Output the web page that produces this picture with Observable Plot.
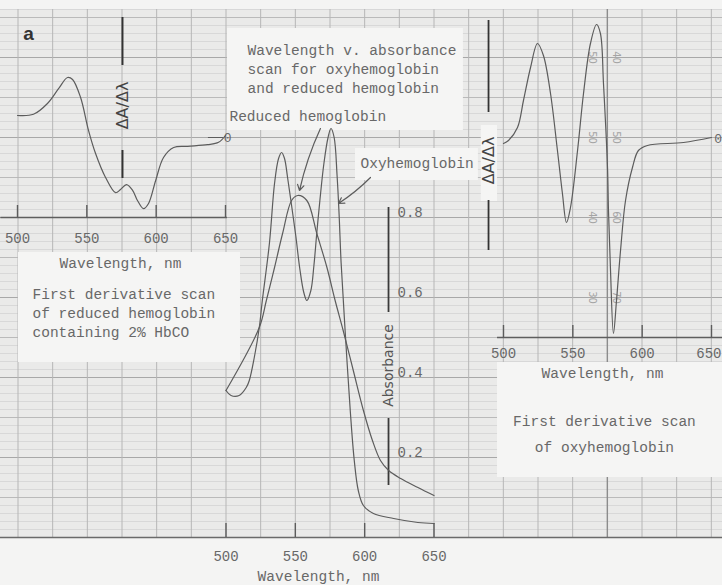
<!DOCTYPE html>
<html>
<head>
<meta charset="utf-8">
<script src="https://cdn.jsdelivr.net/npm/d3@7"></script>
<script src="https://cdn.jsdelivr.net/npm/@observablehq/plot@0.6"></script>
<style>
  body { margin: 0; background: #f4f4f3; }
  #chart { position: relative; width: 722px; height: 585px; overflow: hidden; background: #f4f4f3; }
  #chart svg { position: absolute; left: 0; top: 0; }
  g[aria-label="deriv-label"] text { letter-spacing: 3px; }
  g[aria-label="abs-label"] text { letter-spacing: 1px; }
</style>
</head>
<body>
<div id="chart"></div>
<script>
// ---------- data ----------
const TICKS = [500, 550, 600, 650];
const ABS_TICKS = [0.2, 0.4, 0.6, 0.8];

// Middle: absorbance scans
const oxyWave = [500, 503.6, 509.5, 514.6, 516.8, 520.4, 524.0, 526.2, 531.3, 535.0, 537.9, 540.1, 542.2, 544.4, 547.3, 550.3, 553.2, 556.1, 558.3, 561.2, 563.4, 565.5, 567.7, 570.6, 573.6, 575.7, 578.0, 580.1, 581.6, 583.0, 585.9, 589.6, 592.5, 595.4, 599.1, 606.3, 620.9, 638.4, 650];
const oxyAbs = [0.3675, 0.355, 0.355, 0.375, 0.3925, 0.45, 0.525, 0.5925, 0.735, 0.885, 0.9475, 0.9625, 0.9475, 0.9, 0.83, 0.755, 0.6725, 0.6125, 0.5925, 0.6175, 0.68, 0.7625, 0.8425, 0.935, 1.0, 1.0225, 1.0, 0.905, 0.805, 0.6875, 0.5175, 0.3175, 0.1925, 0.1175, 0.08, 0.06, 0.0475, 0.0375, 0.035];
const redWave = [500, 524.0, 529.1, 535.0, 540.8, 547.3, 551.7, 558.3, 565.5, 572.8, 578.7, 584.5, 591.8, 599.1, 605.6, 611.4, 617.3, 626.0, 638.4, 650];
const redAbs = [0.3675, 0.525, 0.5925, 0.675, 0.76, 0.8425, 0.855, 0.8425, 0.76, 0.675, 0.5925, 0.5175, 0.4175, 0.3175, 0.2425, 0.1925, 0.1675, 0.1475, 0.125, 0.105];

// Left: first derivative of reduced hemoglobin (2% HbCO)
const leftWave = [500, 511.5, 521.6, 529.6, 536.1, 539.7, 545.5, 551.2, 556.3, 563.5, 570.7, 574.3, 578.6, 583.0, 586.6, 590.9, 594.5, 599.6, 605.3, 612.6, 622.7, 637.1, 645.0, 650];
const leftDeriv = [0.275, 0.29, 0.425, 0.61, 0.75, 0.725, 0.5, 0.09, -0.2, -0.5, -0.69, -0.65, -0.59, -0.66, -0.79, -0.89, -0.825, -0.54, -0.25, -0.125, -0.11, -0.09, -0.06, 0.025];

// Right: first derivative of oxyhemoglobin
const rightWave = [500, 503.6, 510.1, 514.4, 519.5, 524.5, 528.8, 533.9, 538.9, 542.5, 545.4, 548.3, 553.4, 557.7, 562.7, 567.1, 569.9, 572.1, 575.0, 575.7, 577.1, 579.3, 581.5, 584.4, 588.0, 593.0, 597.3, 603.8, 629.8, 650];
const rightDeriv = [-0.075, -0.0375, 0.125, 0.4625, 0.875, 1.175, 1.025, 0.55, -0.1625, -0.7, -1.0625, -0.875, -0.1625, 0.55, 1.175, 1.4125, 1.3, 0.675, -0.375, -0.9125, -1.625, -2.45, -2.0375, -1.4125, -0.7875, -0.375, -0.1625, -0.1, -0.0625, 0];

// Chart-paper printed numbers (right panel)
const paperNumsA = ["50", "50", "40", "30"];
const paperNumsB = ["40", "50", "60", "70"];
const paperRows = [1, 0, -1, -2];

// Texts
const titleLines = ["Wavelength v. absorbance", "scan for oxyhemoglobin", "and reduced hemoglobin"];
const redLabel = "Reduced hemoglobin";
const oxyLabel = "Oxyhemoglobin";
const xTitle = "Wavelength, nm";
const absTitle = "Absorbance";
const derivTitle = "ΔA/Δλ";
const leftCaption = ["First derivative scan", "of reduced hemoglobin", "containing 2% HbCO"];
const rightCaption = ["First derivative scan", "of oxyhemoglobin"];
const panelLetter = "a";

// ---------- styles ----------
const MONO = "'Liberation Mono', 'DejaVu Sans Mono', monospace";
const SANS = "'DejaVu Sans', sans-serif";
const INK = "#5c5c5c";
const TYPE = "#686868";
const PAPER = "#eaeae9";
const BOX = "#f5f5f4";

const oxy = oxyWave.map((w, i) => ({w, a: oxyAbs[i]}));
const red = redWave.map((w, i) => ({w, a: redAbs[i]}));
const left = leftWave.map((w, i) => ({w, d: leftDeriv[i]}));
const right = rightWave.map((w, i) => ({w, d: rightDeriv[i]}));

const svgStyle = {background: "none", position: "absolute", left: "0px", top: "0px", maxWidth: "none"};

// grid (paper) in the middle chart's scale
const hIdx = d3.range(0, 67);
const vIdx = d3.range(0, 21);
const hMinor = hIdx.filter(j => j % 5 !== 0).map(j => j * 0.02);
const hMid = hIdx.filter(j => j % 5 === 0 && j % 10 !== 0).map(j => j * 0.02);
const hMajor = hIdx.filter(j => j % 10 === 0).map(j => j * 0.02);
const vLines = vIdx.filter(k => k !== 17).map(k => 500 + 25 * (k - 6));
const vDark = [500 + 25 * 11];

const middle = Plot.plot({
  width: 722, height: 585,
  marginLeft: 225.5, marginRight: 288.5, marginTop: 137, marginBottom: 48,
  x: {domain: [500, 650], axis: null},
  y: {domain: [0, 1], axis: null},
  style: svgStyle,
  marks: [
    Plot.rect([0], {x1: 337, x2: 860, y1: 0, y2: 1.32, fill: PAPER}),
    Plot.ruleY(hMinor, {x1: 337, x2: 860, stroke: "#d3d3d3", strokeWidth: 0.8}),
    Plot.ruleY(hMid, {x1: 337, x2: 860, stroke: "#bababa", strokeWidth: 1}),
    Plot.ruleY(hMajor, {x1: 337, x2: 860, stroke: "#a8a8a8", strokeWidth: 1.2}),
    Plot.ruleX(vLines, {y1: 0, y2: 1.32, stroke: "#b6b6b6", strokeWidth: 1}),
    Plot.ruleX(vDark, {y1: 0, y2: 1.32, stroke: "#8c8c8c", strokeWidth: 1.4}),
    // white label patches
    Plot.rect([0], {x1: 501.1, x2: 671.2, y1: 1.0175, y2: 1.2725, fill: BOX}),
    Plot.rect([0], {x1: 593.4, x2: 682.0, y1: 0.8925, y2: 0.9725, fill: BOX}),
    // x axis
    Plot.ruleY([0], {x1: 337, x2: 860, stroke: "#6a6a6a", strokeWidth: 1.6}),
    Plot.ruleX(TICKS, {y1: 0, y2: 0.035, stroke: INK, strokeWidth: 1.4}),
    Plot.text(TICKS, {x: d => d, y: -0.0475, text: d => String(d), fontFamily: MONO, fontSize: 14, fill: TYPE}),
    Plot.text([xTitle], {x: 566.7, y: -0.0975, text: d => d, fontFamily: MONO, fontSize: 14.5, fill: TYPE}),
    // absorbance axis
    Plot.ruleX([617.2], {y1: 0.5625, y2: 0.825, stroke: "#3a3a3a", strokeWidth: 1.8}),
    Plot.ruleX([617.2], {y1: 0.13, y2: 0.2975, stroke: "#3a3a3a", strokeWidth: 1.8}),
    Plot.text([absTitle], {x: 617.2, y: 0.43, text: d => d, rotate: -90, fontFamily: SANS, fontSize: 14, fill: "#555", ariaLabel: "abs-label"}),
    Plot.text(ABS_TICKS, {x: 623.7, y: d => d, dy: -5, text: d => d.toFixed(1), textAnchor: "start", fontFamily: MONO, fontSize: 14, fill: TYPE}),
    // curves
    Plot.line(red, {x: "w", y: "a", curve: "catmull-rom", stroke: INK, strokeWidth: 1.2}),
    Plot.line(oxy, {x: "w", y: "a", curve: "catmull-rom", stroke: INK, strokeWidth: 1.2}),
    // annotations
    Plot.text([titleLines.join("\n")], {x: 515.5, y: 1.175, text: d => d, textAnchor: "start", lineHeight: 1.31, fontFamily: MONO, fontSize: 14.5, fill: TYPE}),
    Plot.text([redLabel], {x: 502.5, y: 1.0525, text: d => d, textAnchor: "start", fontFamily: MONO, fontSize: 14.5, fill: TYPE}),
    Plot.text([oxyLabel], {x: 597.0, y: 0.935, text: d => d, textAnchor: "start", fontFamily: MONO, fontSize: 14.5, fill: TYPE}),
    Plot.arrow([0], {x1: 568.1, y1: 1.0225, x2: 553.0, y2: 0.8675, bend: -6, stroke: INK, strokeWidth: 1.2, headLength: 8}),
    Plot.arrow([0], {x1: 604.2, y1: 0.9, x2: 581.1, y2: 0.835, bend: 6, stroke: INK, strokeWidth: 1.2, headLength: 8})
  ]
});

const leftPlot = Plot.plot({
  width: 722, height: 585,
  marginLeft: 17, marginRight: 497, marginTop: 57, marginBottom: 368,
  x: {domain: [500, 650], axis: null},
  y: {domain: [-1, 1], axis: null},
  style: svgStyle,
  marks: [
    Plot.rect([0], {x1: 500.7, x2: 660.8, y1: -2.8125, y2: -1.4375, fill: BOX}),
    Plot.ruleY([-1], {x1: 488, x2: 651.4, stroke: "#5e5e5e", strokeWidth: 1.6}),
    Plot.ruleX(TICKS, {y1: -1, y2: -0.85, stroke: INK, strokeWidth: 1.4}),
    Plot.text(TICKS, {x: d => d, y: -1.2625, text: d => String(d), fontFamily: MONO, fontSize: 14, fill: TYPE}),
    Plot.ruleX([575.7], {y1: 0.9, y2: 1.5, stroke: "#333", strokeWidth: 2}),
    Plot.ruleX([575.7], {y1: -0.5125, y2: -0.1625, stroke: "#333", strokeWidth: 2}),
    Plot.text([derivTitle], {x: 575.7, y: 0.4, text: d => d, rotate: -90, fontFamily: SANS, fontSize: 16, fill: "#444", ariaLabel: "deriv-label"}),
    Plot.ruleY([0], {x1: 637.7, x2: 648.5, stroke: INK, strokeWidth: 1}),
    Plot.text(["0"], {x: 651.5, y: 0, text: d => d, fontFamily: MONO, fontSize: 13, fill: TYPE}),
    Plot.line(left, {x: "w", y: "d", curve: "catmull-rom", stroke: INK, strokeWidth: 1.2}),
    Plot.text([panelLetter], {x: 507.9, y: 1.3, text: d => d, fontFamily: "'Liberation Sans', Arial, sans-serif", fontWeight: "bold", fontSize: 19, fill: "#333"}),
    Plot.text([xTitle], {x: 574.3, y: -1.575, text: d => d, fontFamily: MONO, fontSize: 14.5, fill: TYPE}),
    Plot.text([leftCaption.join("\n")], {x: 510.8, y: -2.175, text: d => d, textAnchor: "start", lineHeight: 1.31, fontFamily: MONO, fontSize: 14.5, fill: TYPE})
  ]
});

const rightPlot = Plot.plot({
  width: 722, height: 585,
  marginLeft: 503, marginRight: 11, marginTop: 17, marginBottom: 248,
  x: {domain: [500, 650], axis: null},
  y: {domain: [-2.5, 1.5], axis: null},
  style: svgStyle,
  marks: [
    Plot.rect([0], {x1: 495.7, x2: 662, y1: -4.25, y2: -2.8125, fill: BOX}),
    Plot.rect([0], {x1: 484, x2: 495.7, y1: -0.8, y2: 0.15, fill: BOX}),
    Plot.text(paperNumsA, {x: 564.2, y: (d, i) => paperRows[i], text: d => d, rotate: 90, fontFamily: SANS, fontSize: 10, fill: "#a4a4a4"}),
    Plot.text(paperNumsB, {x: 581.5, y: (d, i) => paperRows[i], text: d => d, rotate: 90, fontFamily: SANS, fontSize: 10, fill: "#a4a4a4"}),
    Plot.ruleY([-2.5], {x1: 495.7, x2: 662, stroke: "#5e5e5e", strokeWidth: 1.6}),
    Plot.ruleX(TICKS, {y1: -2.5, y2: -2.35, stroke: INK, strokeWidth: 1.4}),
    Plot.text(TICKS.filter(d => d < 650), {x: d => d, y: -2.7, text: d => String(d), fontFamily: MONO, fontSize: 14, fill: TYPE}),
    Plot.text(TICKS.filter(d => d === 650), {x: d => d, y: -2.7, dx: 10, textAnchor: "end", text: d => String(d), fontFamily: MONO, fontSize: 14, fill: TYPE}),
    Plot.ruleX([489.2], {y1: 0.3125, y2: 1.4625, stroke: "#333", strokeWidth: 1.8}),
    Plot.ruleX([489.2], {y1: -1.4125, y2: -0.7875, stroke: "#333", strokeWidth: 1.8}),
    Plot.text([derivTitle], {x: 489.2, y: -0.2875, text: d => d, rotate: -90, fontFamily: SANS, fontSize: 16, fill: "#444", ariaLabel: "deriv-label"}),
    Plot.text(["0"], {x: 655.5, y: -0.0125, dx: -1, text: d => d, fontFamily: MONO, fontSize: 13, fill: TYPE}),
    Plot.line(right, {x: "w", y: "d", curve: "catmull-rom", stroke: INK, strokeWidth: 1.2}),
    Plot.text([xTitle], {x: 571.4, y: -2.95, text: d => d, fontFamily: MONO, fontSize: 14.5, fill: TYPE}),
    Plot.text([rightCaption.join("\n")], {x: 572.8, y: -3.6625, text: d => d, lineHeight: 1.8, fontFamily: MONO, fontSize: 14.5, fill: TYPE})
  ]
});

const root = document.getElementById("chart");
root.append(middle, leftPlot, rightPlot);
</script>
</body>
</html>
